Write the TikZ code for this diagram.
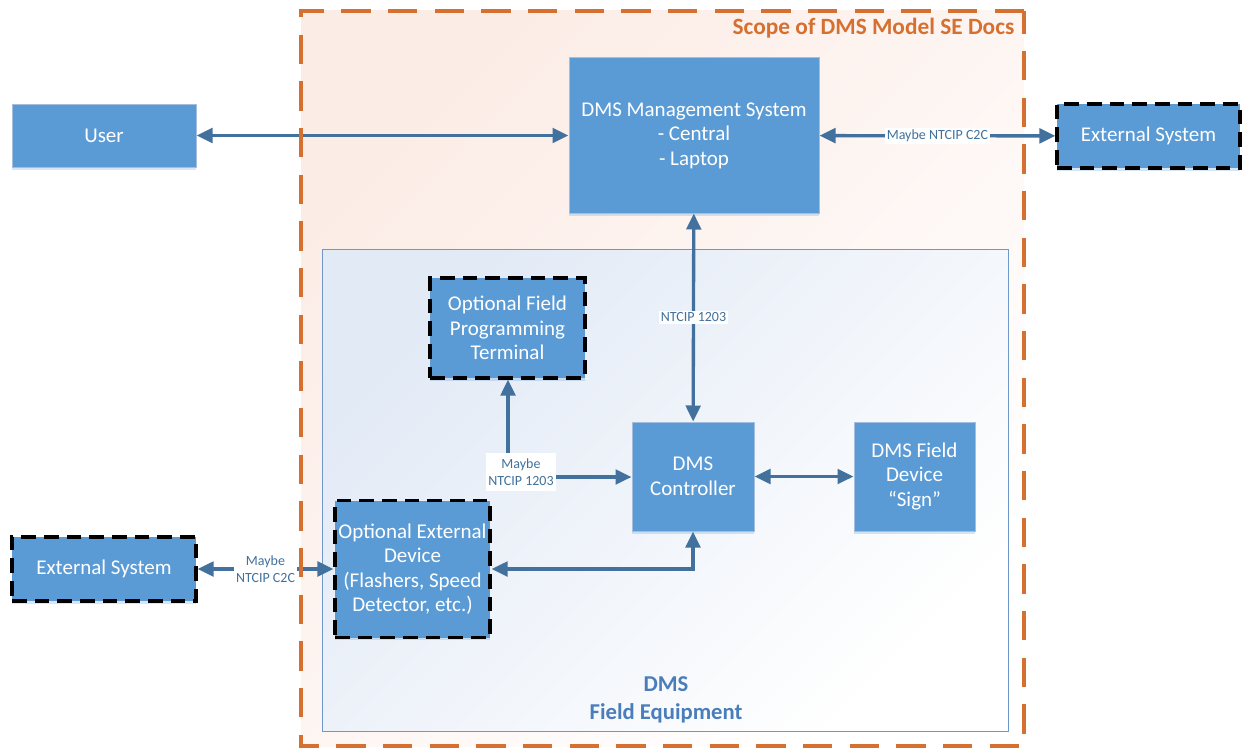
\documentclass[tikz,border=0pt]{standalone}
\usepackage{fontspec}
\setmainfont{Carlito}
\usetikzlibrary{arrows.meta,shadows}

\definecolor{boxblue}{RGB}{91,155,213}
\definecolor{boxline}{RGB}{165,190,222}
\definecolor{linkblue}{RGB}{65,113,156}
\definecolor{scopeorange}{RGB}{214,112,48}
\definecolor{scopepeach}{RGB}{252,236,230}
\definecolor{fieldblue}{RGB}{74,126,187}
\definecolor{fieldshade}{RGB}{226,234,246}

\tikzset{
    box/.style={draw=boxline, line width=0.75pt, fill=boxblue, text=white,
        align=center, inner sep=2pt, font=\fontsize{15.75}{18.4}\selectfont,
        drop shadow={shadow xshift=0pt, shadow yshift=-2pt, opacity=.25, fill=boxblue}},
    optional/.style={box, draw=black, line width=2.5pt, dash pattern=on 11pt off 6pt},
    link/.style={draw=linkblue, line width=2.5pt, {Triangle[length=12pt,width=11pt]}-{Triangle[length=12pt,width=11pt]}},
    onelink/.style={draw=linkblue, line width=2.5pt, -{Triangle[length=12pt,width=11pt]}},
    tag/.style={fill=white, text=linkblue, align=center, inner sep=1.5pt,
        font=\fontsize{10.5}{12.8}\selectfont},
}

\begin{document}
\begin{tikzpicture}[x=0.75pt, y=-0.75pt]
    \newdimen\U\U=0.75pt
    \useasboundingbox (0,0) rectangle (1244,749);

    % scope and field equipment areas
    \path[top color=scopepeach, bottom color=white, shading angle=45]
        (301,11) rectangle (1024,746);
    \path[top color=fieldshade, bottom color=white, shading angle=45, draw=fieldblue!80, line width=0.75pt]
        (322,249) rectangle (1008,731);
    \node[anchor=base east, text=scopeorange, font=\bfseries\fontsize{17.5}{20}\selectfont]
        (scope) at (1019,35) {Scope of DMS Model SE Docs};
    \node[text=fieldblue, align=center, font=\bfseries\fontsize{17}{20.5}\selectfont]
        (field) at (666,700) {DMS\\Field Equipment};

    % boxes
    \node[box, minimum width=184\U, minimum height=63\U] (user) at (104,135.5) {User};
    \node[box, minimum width=250\U, minimum height=155\U] (mgmt) at (694,135.5)
        {DMS Management System\\- Central\\- Laptop};
    \node[optional, minimum width=183\U, minimum height=64\U] (extR) at (1148.5,136) {External System};
    \node[optional, minimum width=155\U, minimum height=100\U] (term) at (507.5,328)
        {Optional Field\\Programming\\Terminal};
    \node[box, minimum width=122\U, minimum height=109\U] (ctrl) at (693,476.5) {DMS\\Controller};
    \node[box, minimum width=121\U, minimum height=109\U] (sign) at (914.5,476.5)
        {DMS Field\\Device\\``Sign''};
    \node[optional, minimum width=155\U, minimum height=137\U] (dev) at (412.5,569)
        {Optional External\\Device\\(Flashers, Speed\\Detector, etc.)};
    \node[optional, minimum width=184\U, minimum height=64\U] (extL) at (104,569) {External System};

    % connections
    \draw[link] (user) -- (mgmt);
    \draw[link] (mgmt) -- node[tag] (c2c) {Maybe NTCIP C2C} (extR);
    \draw[link] (mgmt) -- node[tag] (ntcip) {NTCIP 1203} (ctrl);
    \draw[link] (ctrl) -- (sign);
    \draw[link] (dev.east) -| (ctrl.south);
    \draw[link] (extL) -- node[tag] (c2cL) {Maybe\\NTCIP C2C} (dev);
    \coordinate (jn) at (508,477);
    \draw[onelink] (jn) -- (jn |- term.south);
    \draw[onelink] (jn) -- (ctrl.west |- jn);
    \node[tag, inner ysep=4pt] (term1203) at (521,472) {Maybe\\NTCIP 1203};

    % dashed scope border on top
    \draw[scopeorange, line width=2.6pt, dash pattern=on 22pt off 13pt]
        (1024,11) -- (301,11) -- (301,746) -- (1024,746) -- cycle;
\end{tikzpicture}
\end{document}
